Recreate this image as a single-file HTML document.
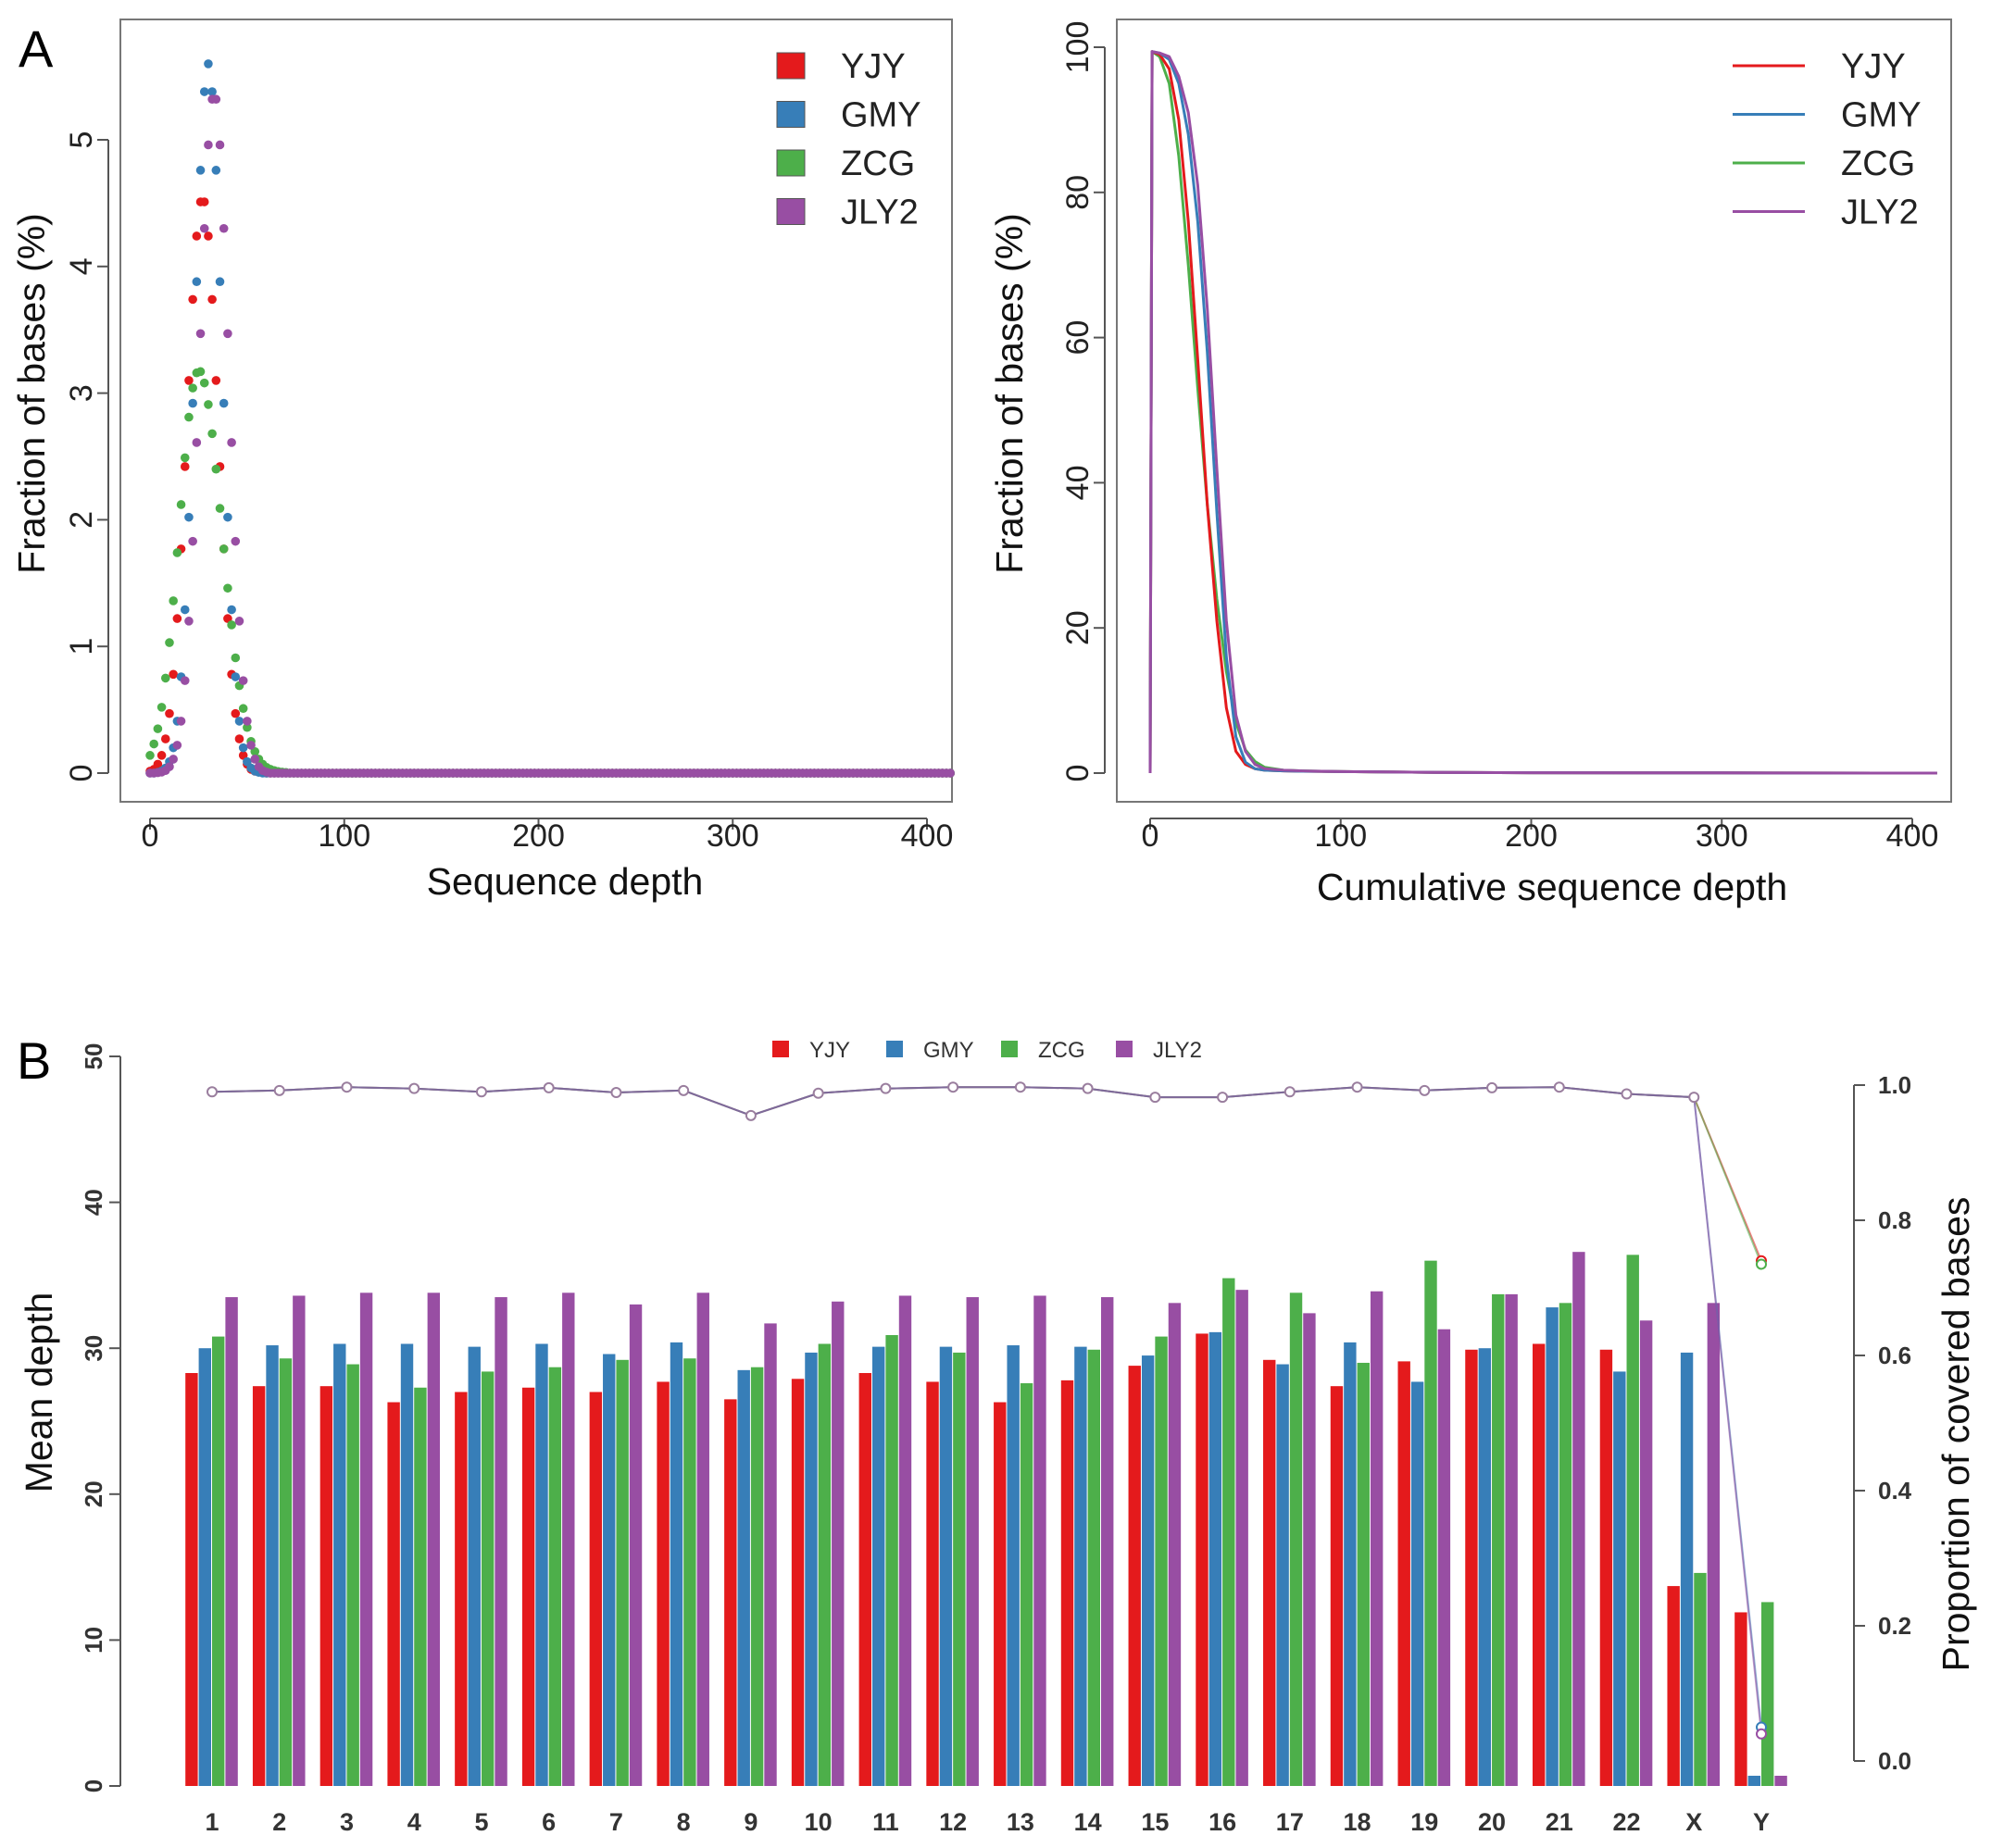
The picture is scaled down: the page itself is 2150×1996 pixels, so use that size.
<!DOCTYPE html>
<html><head><meta charset="utf-8">
<style>
html,body{margin:0;padding:0;background:#fff;}
svg{display:block;font-family:"Liberation Sans",Arial,sans-serif;}
</style></head>
<body>
<svg id="fig" width="2150" height="1996" viewBox="0 0 2150 1996" xmlns="http://www.w3.org/2000/svg">
<g id="gA1"></g>
<g id="gA2"></g>
<g id="gB"></g>
<text x="20" y="72" font-size="56">A</text>
<text x="18" y="1165" font-size="56">B</text>
</svg>
<script>
// ---------- data ----------
const samples = ["YJY","GMY","ZCG","JLY2"];
const colors = ["#e41a1c","#377eb8","#4daf4a","#984ea3"];
// Panel A left: fraction of bases (%) at depth 0,2,4,...,70
const depthStep = 2;
const distYJY = [0.015,0.03,0.07,0.14,0.27,0.47,0.78,1.22,1.77,2.42,3.10,3.74,4.24,4.51,4.51,4.24,3.74,3.10,2.42,1.77,1.22,0.78,0.47,0.27,0.14,0.07,0.03,0.015,0.01,0.005,0,0,0,0,0,0];
const distGMY = [0,0,0.006,0.016,0.04,0.09,0.2,0.41,0.76,1.29,2.02,2.92,3.88,4.76,5.38,5.6,5.38,4.76,3.88,2.92,2.02,1.29,0.76,0.41,0.2,0.09,0.04,0.016,0.006,0,0,0,0,0,0,0];
const distZCG = [0.14,0.23,0.35,0.52,0.75,1.03,1.36,1.74,2.12,2.49,2.81,3.04,3.16,3.17,3.08,2.91,2.68,2.40,2.09,1.77,1.46,1.17,0.91,0.69,0.51,0.36,0.25,0.17,0.11,0.07,0.045,0.03,0.02,0.012,0.008,0.005];
const distJLY2 = [0,0,0.003,0.008,0.02,0.05,0.11,0.22,0.41,0.73,1.2,1.83,2.61,3.47,4.30,4.96,5.32,5.32,4.96,4.30,3.47,2.61,1.83,1.2,0.73,0.41,0.22,0.11,0.05,0.02,0.008,0,0,0,0,0];
const distTailMax = 413;
const distYTicks = [0,1,2,3,4,5];
const distXTicks = [0,100,200,300,400];
// Panel A right: cumulative fraction
const cumDepths = [0,1,5,10,15,20,25,30,35,40,45,50,55,60,70,80,100,150,200,300,413];
const cumYJY  = [0,99.4,99,97,90,76,57,37,21,9,3,1.2,0.6,0.4,0.3,0.25,0.2,0.1,0.05,0.02,0];
const cumGMY  = [0,99.4,99.2,98.3,95,88,76,58,36,16,5,1.5,0.6,0.4,0.3,0.25,0.2,0.1,0.05,0.02,0];
const cumZCG  = [0,99.4,98.7,95,85,70,53,37,24,14,7,3.2,1.6,0.8,0.4,0.3,0.2,0.1,0.05,0.02,0];
const cumJLY2 = [0,99.4,99.2,98.7,96,91,81,64,42,21,8,3,1.2,0.6,0.4,0.3,0.2,0.1,0.05,0.02,0];
const cumYTicks = [0,20,40,60,80,100];
// Panel B
const chroms = ["1","2","3","4","5","6","7","8","9","10","11","12","13","14","15","16","17","18","19","20","21","22","X","Y"];
const depthYJY  = [28.3,27.4,27.4,26.3,27.0,27.3,27.0,27.7,26.5,27.9,28.3,27.7,26.3,27.8,28.8,31.0,29.2,27.4,29.1,29.9,30.3,29.9,13.7,11.9];
const depthGMY  = [30.0,30.2,30.3,30.3,30.1,30.3,29.6,30.4,28.5,29.7,30.1,30.1,30.2,30.1,29.5,31.1,28.9,30.4,27.7,30.0,32.8,28.4,29.7,0.7];
const depthZCG  = [30.8,29.3,28.9,27.3,28.4,28.7,29.2,29.3,28.7,30.3,30.9,29.7,27.6,29.9,30.8,34.8,33.8,29.0,36.0,33.7,33.1,36.4,14.6,12.6];
const depthJLY2 = [33.5,33.6,33.8,33.8,33.5,33.8,33.0,33.8,31.7,33.2,33.6,33.5,33.6,33.5,33.1,34.0,32.4,33.9,31.3,33.7,36.6,31.9,33.1,0.7];
const coverShared = [0.990,0.992,0.997,0.995,0.990,0.996,0.989,0.992,0.955,0.988,0.995,0.997,0.997,0.995,0.982,0.982,0.990,0.997,0.992,0.996,0.997,0.987,0.982];
const coverY = [0.74,0.05,0.735,0.04];
const depthTicks = [0,10,20,30,40,50];
const coverTicks = [0.0,0.2,0.4,0.6,0.8,1.0];

// ---------- helpers ----------
const NS = "http://www.w3.org/2000/svg";
function mk(parent, tag, attrs, text){
  const e = document.createElementNS(NS, tag);
  for (const k in attrs) e.setAttribute(k, attrs[k]);
  if (text !== undefined) e.textContent = text;
  parent.appendChild(e);
  return e;
}

// ---------- Panel A left ----------
(function(){
  const g = document.getElementById('gA1');
  const X0=130,X1=1028,Y0=21,Y1=866;
  const sx = d => 162 + d*(1001-162)/400;
  const sy = v => 835 - v*(835-151)/5;
  const box = mk(g,'rect',{x:X0,y:Y0,width:X1-X0,height:Y1-Y0,fill:'none',stroke:'#777','stroke-width':2});
   
  const series = [distYJY,distGMY,distZCG,distJLY2];
  series.forEach((arr,si)=>{
    const sg = mk(g,'g',{fill:colors[si]});
     
    arr.forEach((v,i)=>{
      const c = mk(sg,'circle',{cx:sx(i*depthStep),cy:sy(v),r:4.8});
       
    });
    for(let d=arr.length*depthStep; d<=distTailMax; d+=depthStep){
      const c = mk(sg,'circle',{cx:sx(d),cy:sy(0),r:4.8});
       
    }
  });
  const ya = mk(g,'g',{stroke:'#555','stroke-width':2});
   
  mk(ya,'line',{x1:117,y1:sy(0),x2:117,y2:sy(5)});
  distYTicks.forEach(t=>{
    mk(ya,'line',{x1:105,y1:sy(t),x2:117,y2:sy(t)});
    const tx = mk(g,'text',{x:99,y:sy(t),'font-size':34,'text-anchor':'middle',transform:`rotate(-90 99 ${sy(t)})`,fill:'#222'},String(t));
     
  });
  const xa = mk(g,'g',{stroke:'#555','stroke-width':2});
   
  mk(xa,'line',{x1:sx(0),y1:884,x2:sx(400),y2:884});
  distXTicks.forEach(t=>{
    mk(xa,'line',{x1:sx(t),y1:884,x2:sx(t),y2:896});
    const tx = mk(g,'text',{x:sx(t),y:914,'font-size':34,'text-anchor':'middle',fill:'#222'},String(t));
     
  });
  const xt = mk(g,'text',{x:610,y:966,'font-size':41,'text-anchor':'middle',fill:'#111'},'Sequence depth');
   
  const yt = mk(g,'text',{x:48,y:425,'font-size':41,'text-anchor':'middle',transform:'rotate(-90 48 425)',fill:'#111'},'Fraction of bases (%)');
   
  const lg = mk(g,'g',{});
   
  samples.forEach((s,i)=>{
    const y = 71 + i*52.5;
    const r = mk(lg,'rect',{x:839,y:y-14,width:30,height:28,fill:colors[i],stroke:'#555','stroke-width':1});
     
    const t = mk(lg,'text',{x:908,y:y+13,'font-size':38,fill:'#222'},s);
     
  });
})();

// ---------- Panel A right ----------
(function(){
  const g = document.getElementById('gA2');
  const X0=1206,X1=2107,Y0=21,Y1=866;
  const sx = d => 1242 + d*(2065-1242)/400;
  const sy = v => 835 - v*(835-51)/100;
  const box = mk(g,'rect',{x:X0,y:Y0,width:X1-X0,height:Y1-Y0,fill:'none',stroke:'#777','stroke-width':2});
   
  const series=[cumYJY,cumGMY,cumZCG,cumJLY2];
  const order=[2,0,1,3];
  order.forEach(si=>{
    const arr=series[si];
    const pts = arr.map((v,i)=>sx(cumDepths[i]).toFixed(1)+','+sy(v).toFixed(1)).join(' ');
    const l = mk(g,'polyline',{points:pts,fill:'none',stroke:colors[si],'stroke-width':3,'stroke-linejoin':'round'});
     
  });
  const ya = mk(g,'g',{stroke:'#555','stroke-width':2});
   
  mk(ya,'line',{x1:1193,y1:sy(0),x2:1193,y2:sy(100)});
  cumYTicks.forEach(t=>{
    mk(ya,'line',{x1:1181,y1:sy(t),x2:1193,y2:sy(t)});
    const tx = mk(g,'text',{x:1175,y:sy(t),'font-size':34,'text-anchor':'middle',transform:`rotate(-90 1175 ${sy(t)})`,fill:'#222'},String(t));
     
  });
  const xa = mk(g,'g',{stroke:'#555','stroke-width':2});
   
  mk(xa,'line',{x1:sx(0),y1:884,x2:sx(400),y2:884});
  distXTicks.forEach(t=>{
    mk(xa,'line',{x1:sx(t),y1:884,x2:sx(t),y2:896});
    const tx = mk(g,'text',{x:sx(t),y:914,'font-size':34,'text-anchor':'middle',fill:'#222'},String(t));
     
  });
  const xt = mk(g,'text',{x:1676,y:972,'font-size':41,'text-anchor':'middle',fill:'#111'},'Cumulative sequence depth');
   
  const yt = mk(g,'text',{x:1104,y:425,'font-size':41,'text-anchor':'middle',transform:'rotate(-90 1104 425)',fill:'#111'},'Fraction of bases (%)');
   
  const lg = mk(g,'g',{});
   
  samples.forEach((s,i)=>{
    const y = 71 + i*52.5;
    const l = mk(lg,'line',{x1:1871,y1:y,x2:1949,y2:y,stroke:colors[i],'stroke-width':3});
     
    const t = mk(lg,'text',{x:1988,y:y+13,'font-size':38,fill:'#222'},s);
     
  });
})();

// ---------- Panel B ----------
(function(){
  const g = document.getElementById('gB');
  const cx = i => 229 + i*(1902-229)/23;
  const sy = v => 1929 - v*(1929-1141)/50;
  const sy2 = p => 1902 - p*(1902-1172)/1.0;
  const bw = 14.4;
  const series=[depthYJY,depthGMY,depthZCG,depthJLY2];
  series.forEach((arr,si)=>{
    const sg = mk(g,'g',{fill:colors[si]});
     
    arr.forEach((v,i)=>{
      const x = cx(i) - 2*bw + si*bw;
      const r = mk(sg,'rect',{x:x,y:sy(v),width:bw-1,height:sy(0)-sy(v)});
       
    });
  });
  const lineCols=['#e41a1c','#377eb8','#4daf4a','#984ea3'];
  [0,2,1,3].forEach(si=>{
    const vals = coverShared.concat([coverY[si]]);
    const pts = vals.map((p,i)=>cx(i).toFixed(1)+','+sy2(p).toFixed(1)).join(' ');
    const pl = mk(g,'polyline',{points:pts,fill:'none',stroke:lineCols[si],'stroke-width':2,opacity:0.55});
     
  });
  const covDots = mk(g,'g',{fill:'#fff','stroke-width':2});
   
  coverShared.forEach((p,i)=>{
    const c = mk(covDots,'circle',{cx:cx(i),cy:sy2(p),r:5,stroke:'#9a7e9e'});
     
  });
  coverY.forEach((p,si)=>{
    const c = mk(covDots,'circle',{cx:cx(23),cy:sy2(p),r:5,stroke:lineCols[si]});
     
  });
  const ya = mk(g,'g',{stroke:'#555','stroke-width':2});
   
  mk(ya,'line',{x1:130,y1:sy(0),x2:130,y2:sy(50)});
  depthTicks.forEach(t=>{
    mk(ya,'line',{x1:118,y1:sy(t),x2:130,y2:sy(t)});
    const tx = mk(g,'text',{x:110,y:sy(t),'font-size':26,'font-weight':'bold','text-anchor':'middle',transform:`rotate(-90 110 ${sy(t)})`,fill:'#333'},String(t));
     
  });
  const ra = mk(g,'g',{stroke:'#555','stroke-width':2});
   
  mk(ra,'line',{x1:2002,y1:sy2(0),x2:2002,y2:sy2(1)});
  coverTicks.forEach(t=>{
    mk(ra,'line',{x1:2002,y1:sy2(t),x2:2014,y2:sy2(t)});
    const tx = mk(g,'text',{x:2028,y:sy2(t)+9,'font-size':26,'font-weight':'bold',fill:'#333'},t.toFixed(1));
     
  });
  chroms.forEach((c,i)=>{
    const tx = mk(g,'text',{x:cx(i),y:1977,'font-size':27,'font-weight':'bold','text-anchor':'middle',fill:'#333'},c);
     
  });
  const yt = mk(g,'text',{x:56,y:1504,'font-size':41,'text-anchor':'middle',transform:'rotate(-90 56 1504)',fill:'#111'},'Mean depth');
   
  const yt2 = mk(g,'text',{x:2126,y:1549,'font-size':41,'text-anchor':'middle',transform:'rotate(-90 2126 1549)',fill:'#111'},'Proportion of covered bases');
   
  const lg = mk(g,'g',{});
   
  const lx=[834,957,1081,1205];
  samples.forEach((s,i)=>{
    const r = mk(lg,'rect',{x:lx[i],y:1124,width:18,height:18,fill:colors[i]});
     
    const t = mk(lg,'text',{x:lx[i]+40,y:1142,'font-size':24,fill:'#333'},s);
     
  });
})();
</script>
</body></html>
